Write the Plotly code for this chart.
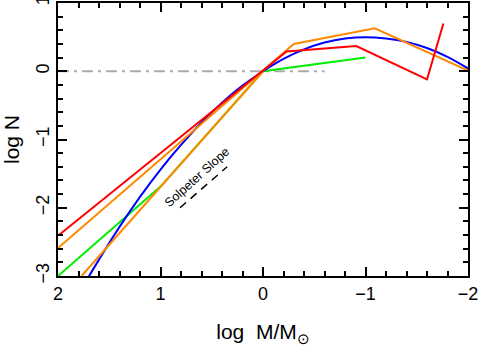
import plotly.graph_objects as go

# -----------------------------
# Data
# -----------------------------
red_x = [2.0, 0.0, -0.23, -0.91, -1.60, -1.76]
red_y = [-2.41, 0.0, 0.29, 0.37, -0.12, 0.70]

orange_x = [2.0, 0.0, -0.30, -1.09, -2.0]
orange_y = [-2.59, 0.0, 0.40, 0.63, 0.01]

orange2_x = [1.77, 0.0]
orange2_y = [-3.0, 0.0]

green_x = [2.0, 1.0, 0.0, -1.0]
green_y = [-3.0, -1.69, 0.0, 0.20]

blue_x = [1.8, 1.7, 1.6, 1.4, 1.2, 1.0, 0.8, 0.6, 0.4, 0.2, 0.0,
          -0.2, -0.4, -0.6, -0.8, -1.0, -1.2, -1.4, -1.6, -1.8, -2.0]
blue_y = [-3.28, -3.01, -2.76, -2.28, -1.84, -1.44, -1.08, -0.75, -0.46, -0.21, 0.0,
          0.18, 0.32, 0.42, 0.48, 0.50, 0.48, 0.43, 0.34, 0.21, 0.04]

ref_x = [2.0, -0.6]
ref_y = [0.0, 0.0]

salpeter_x = [0.81, 0.35]
salpeter_y = [-2.0, -1.40]

FONT = "Liberation Sans, Arial, Helvetica, sans-serif"

fig = go.Figure()

# -----------------------------
# Reference line at log N = 0
# -----------------------------
fig.add_trace(
    go.Scatter(
        x=ref_x, y=ref_y, mode="lines",
        line=dict(color="#aaaaaa", width=2, dash="11px,5px,3px,5px"),
    )
)

# -----------------------------
# IMF curves
# -----------------------------
fig.add_trace(go.Scatter(x=green_x, y=green_y, mode="lines", line=dict(color="#00ee00", width=2)))
fig.add_trace(go.Scatter(x=blue_x, y=blue_y, mode="lines", line=dict(color="#0000ff", width=2, shape="spline")))
fig.add_trace(go.Scatter(x=orange2_x, y=orange2_y, mode="lines", line=dict(color="#ff8800", width=2)))
fig.add_trace(go.Scatter(x=orange_x, y=orange_y, mode="lines", line=dict(color="#ff8800", width=2)))
fig.add_trace(go.Scatter(x=red_x, y=red_y, mode="lines", line=dict(color="#ff0000", width=2)))

# Salpeter slope marker
fig.add_trace(
    go.Scatter(
        x=salpeter_x, y=salpeter_y, mode="lines",
        line=dict(color="black", width=1.5, dash="8px,6px"),
    )
)

fig.add_annotation(
    x=0.64, y=-1.55, text="Solpeter Slope", showarrow=False,
    textangle=-42, font=dict(family=FONT, size=12.5, color="black"),
)

axis_common = dict(
    showgrid=False, zeroline=False, automargin=False,
    showline=True, linecolor="black", linewidth=2, mirror="allticks",
    ticks="inside", ticklen=9, tickwidth=2, tickcolor="black",
    tickmode="linear", dtick=1, ticklabeloverflow="allow",
    tickfont=dict(family=FONT, size=18, color="black"),
    minor=dict(ticks="inside", ticklen=5, tickwidth=2, tickcolor="black", dtick=0.2, showgrid=False),
)

fig.update_xaxes(
    range=[2, -2], tick0=0,
    title=dict(text="log  M/M<sub>\u2299</sub>", font=dict(family=FONT, size=21, color="black"), standoff=22),
    **axis_common,
)
fig.update_yaxes(
    range=[-3, 1], tick0=0,
    tickangle=-90,
    title=dict(text="log N", font=dict(family=FONT, size=21, color="black"), standoff=12),
    **axis_common,
)

fig.update_layout(
    template="simple_white",
    width=482, height=348,
    margin=dict(l=58, r=14, t=3, b=72),
    showlegend=False,
    plot_bgcolor="white", paper_bgcolor="white",
)

# the page's default body margin shifts the plot; remove it
fig.write_html(
    "out.html",
    config={"displayModeBar": False},
    post_script="document.body.style.margin='0';",
)
